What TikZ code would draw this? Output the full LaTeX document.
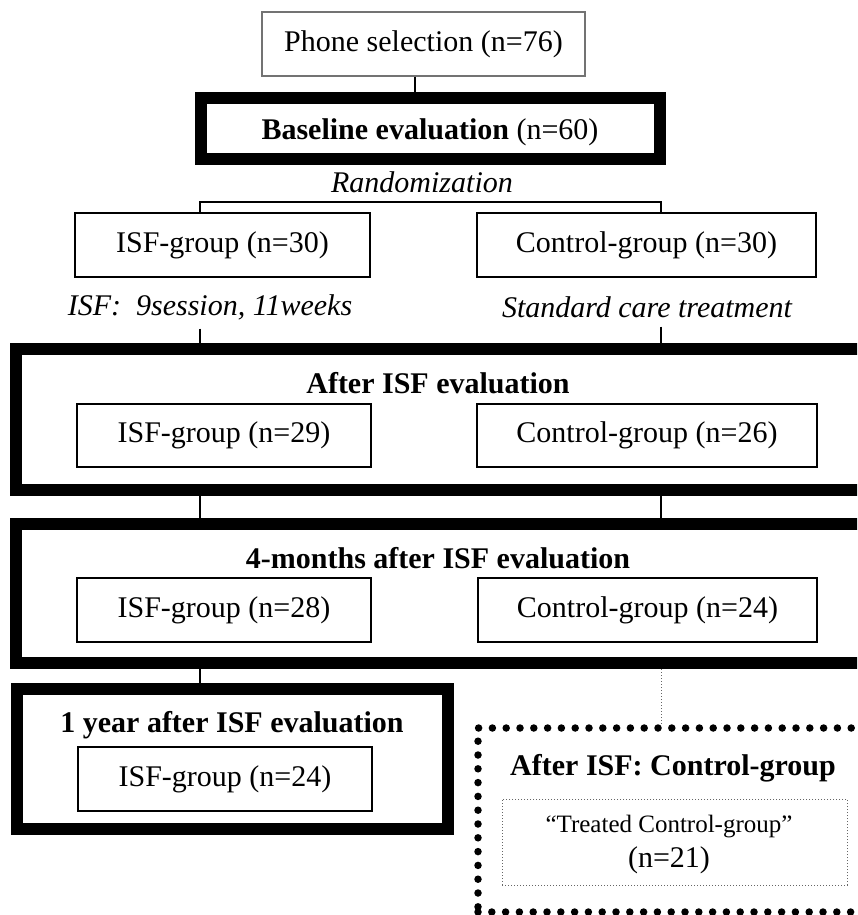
\documentclass[tikz,border=0pt]{standalone}
\usepackage{fontspec}
\setmainfont{Liberation Serif}
\begin{document}
\begin{tikzpicture}[x=1pt,y=-1pt,
  every node/.style={inner sep=0pt, font=\fontsize{30}{34}\selectfont},
  thickbox/.style={draw=black, line width=12pt},
  grpbox/.style={draw=black, line width=2.2pt},
  title/.style={font=\fontsize{30}{34}\selectfont\bfseries},
  lab/.style={font=\fontsize{30}{34}\selectfont\itshape, outer ysep=9pt},
  conn/.style={draw=black, line width=2pt},
  bigdots/.style={draw=black, line width=7.5pt, line cap=round, dash pattern=on 0pt off 13.8pt},
  finedots/.style={draw=black!60, line width=1pt, dotted}]
\useasboundingbox (0,0) rectangle (857,915);
\clip (0,0) rectangle (857,915);
\fill[white] (0,0) rectangle (857,915);

% columns for connectors
\coordinate (c0) at (415,0);
\coordinate (cL) at (200,202);
\coordinate (cR) at (661,202);

% top
\node[draw=black!55, line width=1.3pt, minimum width=323pt, minimum height=64pt] (phone) at (423.5,44) {Phone selection (n=76)};
\node[thickbox, minimum width=459pt, minimum height=61pt] (base) at (430.5,128.5) {};
\node (basetxt) at (430,132) {\textbf{Baseline evaluation} (n=60)};
\node[lab, outer ysep=0pt] (rand) at (422,182) {Randomization};

\node[grpbox, minimum width=295pt, minimum height=64pt] (isf30) at (222.5,245) {ISF-group (n=30)};
\node[grpbox, minimum width=339pt, minimum height=64pt] (ctl30) at (646.5,245) {Control-group (n=30)};
\node[lab] (isflab) at (210,307) {ISF:\ \ 9session, 11weeks};
\node[lab] (ctllab) at (647,307) {Standard care treatment};

% after ISF
\node[thickbox, minimum width=884pt, minimum height=141pt] (after) at (458,419.5) {};
\node[title] (aftertitle) at (438,383) {After ISF evaluation};
\node[grpbox, minimum width=294pt, minimum height=63pt] (isf29) at (224,435.5) {ISF-group (n=29)};
\node[grpbox, minimum width=340pt, minimum height=63pt] (ctl26) at (647,435.5) {Control-group (n=26)};

% 4 months
\node[thickbox, minimum width=884pt, minimum height=139pt] (fourm) at (458,593.5) {};
\node[title] (fourmtitle) at (438,558) {4-months after ISF evaluation};
\node[grpbox, minimum width=294pt, minimum height=64pt] (isf28) at (224,610) {ISF-group (n=28)};
\node[grpbox, minimum width=339pt, minimum height=64pt] (ctl24) at (647.5,610) {Control-group (n=24)};

% 1 year
\node[thickbox, minimum width=431pt, minimum height=140pt] (year) at (232.5,759) {};
\node[title] (yeartitle) at (232,725) {1 year after ISF evaluation};
\node[grpbox, minimum width=294pt, minimum height=64pt] (isf24) at (225,779) {ISF-group (n=24)};

% after ISF control group
\node[bigdots, minimum width=412pt, minimum height=184pt] (aic) at (684,820) {};
\node[title] (aictitle) at (673,768) {After ISF: Control-group};
\node[finedots, minimum width=345pt, minimum height=86pt] (treated) at (674.5,842) {};
\node[font=\fontsize{25}{28}\selectfont] (treatedtxt) at (669,827) {“Treated Control-group”};
\node (n21) at (669,860) {(n=21)};

% connectors
\draw[conn] (phone.south -| c0) -- (base.north -| c0);
\draw[conn] (isf30.north -| cL) -- (cL) -- (cR) -- (ctl30.north -| cR);
\draw[conn] (isflab.south -| cL) -- (after.north -| cL);
\draw[conn] (ctllab.south -| cR) -- (after.north -| cR);
\draw[conn] (after.south -| cL) -- (fourm.north -| cL);
\draw[conn] (after.south -| cR) -- (fourm.north -| cR);
\draw[conn] (fourm.south -| cL) -- (year.north -| cL);
\draw[finedots] (fourm.south -| cR) -- (aic.north -| cR);
\end{tikzpicture}
\end{document}
